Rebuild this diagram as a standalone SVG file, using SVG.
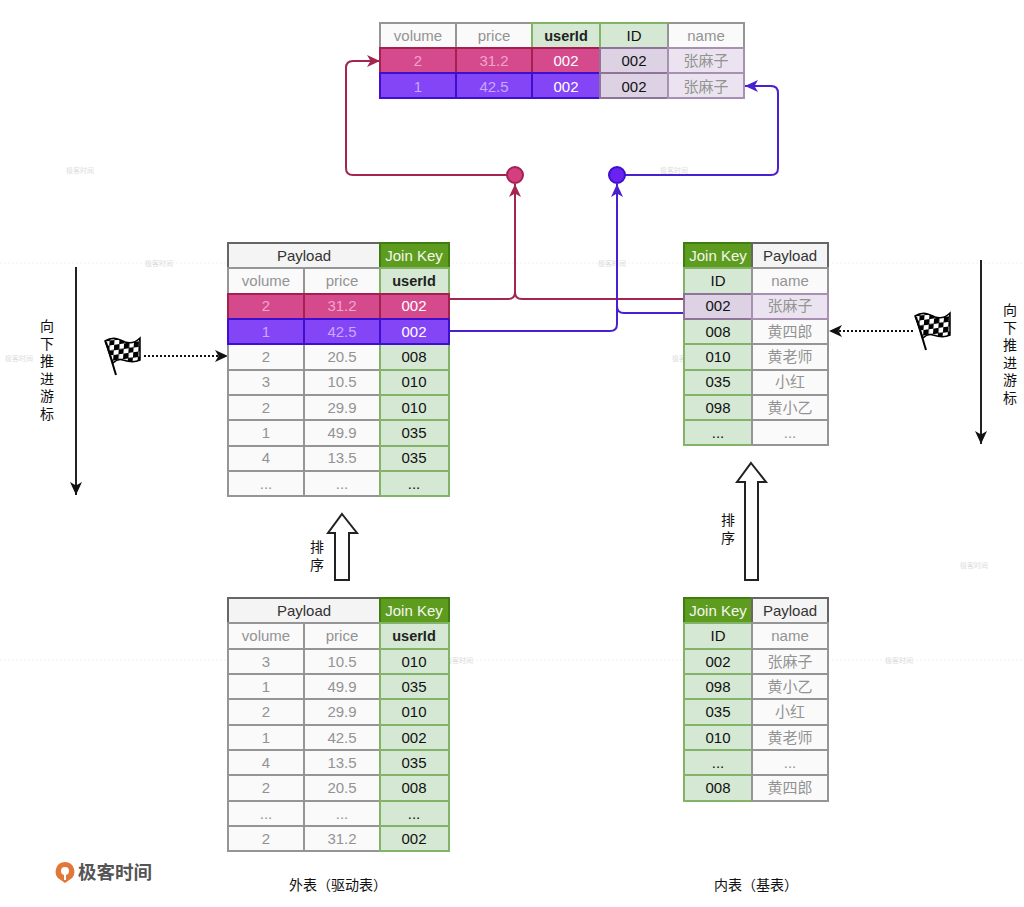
<svg xmlns="http://www.w3.org/2000/svg" width="1024" height="907" viewBox="0 0 1024 907">
<style>
text{font-family:"Liberation Sans","Noto Sans CJK SC",sans-serif;font-size:15px;text-anchor:middle}
rect{stroke-width:2}
.g{fill:#fafafa;stroke:#959595}.gd{fill:#f4f4f4;stroke:#666}
.k{fill:#d5e8d4;stroke:#82b366}.h{fill:#5d9c1f;stroke:#3f7d10}
.p{fill:#d54a8d;stroke:#a3214f}.u{fill:#8445f7;stroke:#3d10cf}
.l{fill:#dcd2e4;stroke:#8f7399}.m{fill:#ebe4f0;stroke:#a890b3}
.tg{fill:#939393}.tk{fill:#111}.td{fill:#333}.tw{fill:#f4f7ee}.tb{font-weight:bold;font-size:14.5px;fill:#222}
.tp{fill:#f0a5cb}.tu{fill:#c9a8ff}.w{fill:#fff}
.wm{font-size:7px;fill:#dcdcdc;text-anchor:start}
.c{fill:none;stroke-width:2}.r{stroke:#a3264f}.b{stroke:#4a1fd0}
.s{font-size:14px;fill:#111}
.wl{stroke:#f1f1f1;stroke-width:1;fill:none;stroke-dasharray:2 2}
</style>
<defs>
<marker id="ar" markerUnits="userSpaceOnUse" markerWidth="14" markerHeight="12" refX="13" refY="6" orient="auto"><path d="M0 0L13 6L0 12L3.500 6Z" fill="#a3264f"/></marker>
<marker id="ab" markerUnits="userSpaceOnUse" markerWidth="14" markerHeight="12" refX="13" refY="6" orient="auto"><path d="M0 0L13 6L0 12L3.500 6Z" fill="#4a1fd0"/></marker>
<marker id="ak" markerUnits="userSpaceOnUse" markerWidth="14" markerHeight="12" refX="13" refY="6" orient="auto"><path d="M0 0L13 6L0 12L3.500 6Z" fill="#111"/></marker>
<pattern id="chk" width="10" height="10" patternUnits="userSpaceOnUse" patternTransform="rotate(-8) skewX(-12)"><rect width="10" height="10" fill="#fff" style="stroke:none"/><rect width="5.500" height="5.500" fill="#000" style="stroke:none"/><rect x="5" y="5" width="5.500" height="5.500" fill="#000" style="stroke:none"/></pattern>
<g id="flagShape"><path d="M0 5C8 0 14 3 20 6C26 8 31 6 35 2L35 24C29 27 24 26 18 24C13 22 10 25 8 27Z" fill="url(#chk)" stroke="#000" stroke-width="1.500"/><path d="M1 6L11 39" stroke="#000" stroke-width="2" fill="none"/></g>
</defs>

<g id="watermarks">
<path class="wl" d="M0 263H1024M0 660H1024"/>
<text class="wm" x="66" y="173">极客时间</text><text class="wm" x="145" y="266">极客时间</text>
<text class="wm" x="598" y="266">极客时间</text><text class="wm" x="672" y="361">极客时间</text>
<text class="wm" x="660" y="173">极客时间</text><text class="wm" x="960" y="568">极客时间</text>
<text class="wm" x="885" y="663">极客时间</text><text class="wm" x="283" y="663">极客时间</text>
<text class="wm" x="445" y="663">极客时间</text><text class="wm" x="5" y="361">极客时间</text>
</g>

<g id="connectors">
<path class="c r" d="M449 299H508Q515 299 515 292V184" marker-end="url(#ar)"/>
<path class="c r" d="M684 299H522Q515 299 515 292"/>
<path class="c b" d="M449 331H610Q617 331 617 324V184" marker-end="url(#ab)"/>
<path class="c b" d="M684 313H624Q617 313 617 306"/>
<path class="c r" d="M507 175H353Q346 175 346 168V68Q346 61 353 61H380" marker-end="url(#ar)"/>
<path class="c b" d="M625 175H771Q778 175 778 168V93Q778 86 771 86H745" marker-end="url(#ab)"/>
<path class="c" stroke="#111" stroke-dasharray="2 2" d="M144 356H228" marker-end="url(#ak)"/>
<path class="c" stroke="#111" stroke-dasharray="2 2" d="M913 331H829" marker-end="url(#ak)"/>
<path class="c" stroke="#222" d="M76 267V495" marker-end="url(#ak)"/>
<path class="c" stroke="#222" d="M981 260V444" marker-end="url(#ak)"/>
<path d="M342 514L357 533H349V580H335V533H328Z" fill="#fff" stroke="#222" stroke-width="2"/>
<path d="M751 463L766 482H758V580H745V482H737Z" fill="#fff" stroke="#222" stroke-width="2"/>
</g>

<g id="dot-pink"><circle cx="515" cy="175" r="8" fill="#d43f80" stroke="#a3214f" stroke-width="2"/></g>
<g id="dot-purple"><circle cx="617" cy="175" r="8" fill="#6a22f0" stroke="#3d10cf" stroke-width="2"/></g>

<g id="result-table">
<rect class="g" x="380" y="23" width="76" height="25"/><rect class="g" x="456" y="23" width="76" height="25"/>
<rect class="k" x="532" y="23" width="68" height="25"/><rect class="k" x="600" y="23" width="68" height="25"/>
<rect class="g" x="668" y="23" width="76" height="25"/>
<rect class="p" x="380" y="48" width="76" height="25"/><rect class="p" x="456" y="48" width="76" height="25"/><rect class="p" x="532" y="48" width="68" height="25"/>
<rect class="l" x="600" y="48" width="68" height="25"/><rect class="m" x="668" y="48" width="76" height="25"/>
<rect class="u" x="380" y="73" width="76" height="25"/><rect class="u" x="456" y="73" width="76" height="25"/><rect class="u" x="532" y="73" width="68" height="25"/>
<rect class="l" x="600" y="73" width="68" height="25"/><rect class="m" x="668" y="73" width="76" height="25"/>
<text class="tg" x="418" y="41">volume</text><text class="tg" x="494" y="41">price</text><text class="tb" x="566" y="41">userId</text><text class="tk" x="634" y="41">ID</text><text class="tg" x="706" y="41">name</text>
<text class="tp" x="418" y="66">2</text><text class="tp" x="494" y="66">31.2</text><text class="w" x="566" y="66">002</text><text class="tk" x="634" y="66">002</text><text class="tg" x="706" y="66">张麻子</text>
<text class="tu" x="418" y="92">1</text><text class="tu" x="494" y="92">42.5</text><text class="w" x="566" y="92">002</text><text class="tk" x="634" y="92">002</text><text class="tg" x="706" y="92">张麻子</text>
</g>

<g id="outer-sorted">
<rect class="gd" x="228" y="243" width="152" height="25"/><rect class="h" x="380" y="243" width="69" height="25"/>
<rect class="g" x="228" y="268" width="76" height="26"/><rect class="g" x="304" y="268" width="76" height="26"/><rect class="k" x="380" y="268" width="69" height="26"/>
<rect class="g" x="228" y="344" width="76" height="26"/><rect class="g" x="304" y="344" width="76" height="26"/><rect class="k" x="380" y="344" width="69" height="26"/>
<rect class="g" x="228" y="370" width="76" height="25"/><rect class="g" x="304" y="370" width="76" height="25"/><rect class="k" x="380" y="370" width="69" height="25"/>
<rect class="g" x="228" y="395" width="76" height="25"/><rect class="g" x="304" y="395" width="76" height="25"/><rect class="k" x="380" y="395" width="69" height="25"/>
<rect class="g" x="228" y="420" width="76" height="26"/><rect class="g" x="304" y="420" width="76" height="26"/><rect class="k" x="380" y="420" width="69" height="26"/>
<rect class="g" x="228" y="446" width="76" height="25"/><rect class="g" x="304" y="446" width="76" height="25"/><rect class="k" x="380" y="446" width="69" height="25"/>
<rect class="g" x="228" y="471" width="76" height="25"/><rect class="g" x="304" y="471" width="76" height="25"/><rect class="k" x="380" y="471" width="69" height="25"/>
<rect class="p" x="228" y="294" width="76" height="25"/><rect class="p" x="304" y="294" width="76" height="25"/><rect class="p" x="380" y="294" width="69" height="25"/>
<rect class="u" x="228" y="319" width="76" height="25"/><rect class="u" x="304" y="319" width="76" height="25"/><rect class="u" x="380" y="319" width="69" height="25"/>
<text class="td" x="304" y="261">Payload</text><text class="tw" x="414" y="261">Join Key</text>
<text class="tg" x="266" y="286">volume</text><text class="tg" x="342" y="286">price</text><text class="tb" x="414" y="286">userId</text>
<text class="tp" x="266" y="311">2</text><text class="tp" x="342" y="311">31.2</text><text class="w" x="414" y="311">002</text>
<text class="tu" x="266" y="337">1</text><text class="tu" x="342" y="337">42.5</text><text class="w" x="414" y="337">002</text>
<text class="tg" x="266" y="362">2</text><text class="tg" x="342" y="362">20.5</text><text class="tk" x="414" y="362">008</text>
<text class="tg" x="266" y="387">3</text><text class="tg" x="342" y="387">10.5</text><text class="tk" x="414" y="387">010</text>
<text class="tg" x="266" y="413">2</text><text class="tg" x="342" y="413">29.9</text><text class="tk" x="414" y="413">010</text>
<text class="tg" x="266" y="438">1</text><text class="tg" x="342" y="438">49.9</text><text class="tk" x="414" y="438">035</text>
<text class="tg" x="266" y="463">4</text><text class="tg" x="342" y="463">13.5</text><text class="tk" x="414" y="463">035</text>
<text class="tg" x="266" y="489">...</text><text class="tg" x="342" y="489">...</text><text class="tk" x="414" y="489">...</text>
</g>

<g id="inner-sorted">
<rect class="h" x="684" y="243" width="68" height="25"/><rect class="gd" x="752" y="243" width="76" height="25"/>
<rect class="k" x="684" y="268" width="68" height="26"/><rect class="g" x="752" y="268" width="76" height="26"/>
<rect class="k" x="684" y="319" width="68" height="25"/><rect class="g" x="752" y="319" width="76" height="25"/>
<rect class="k" x="684" y="344" width="68" height="26"/><rect class="g" x="752" y="344" width="76" height="26"/>
<rect class="k" x="684" y="370" width="68" height="25"/><rect class="g" x="752" y="370" width="76" height="25"/>
<rect class="k" x="684" y="395" width="68" height="25"/><rect class="g" x="752" y="395" width="76" height="25"/>
<rect class="k" x="684" y="420" width="68" height="25"/><rect class="g" x="752" y="420" width="76" height="25"/>
<rect class="l" x="684" y="294" width="68" height="25"/><rect class="m" x="752" y="294" width="76" height="25"/>
<text class="tw" x="718" y="261">Join Key</text><text class="td" x="790" y="261">Payload</text>
<text class="tk" x="718" y="286">ID</text><text class="tg" x="790" y="286">name</text>
<text class="tk" x="718" y="311">002</text><text class="tg" x="790" y="311">张麻子</text>
<text class="tk" x="718" y="337">008</text><text class="tg" x="790" y="337">黄四郎</text>
<text class="tk" x="718" y="362">010</text><text class="tg" x="790" y="362">黄老师</text>
<text class="tk" x="718" y="387">035</text><text class="tg" x="790" y="387">小红</text>
<text class="tk" x="718" y="413">098</text><text class="tg" x="790" y="413">黄小乙</text>
<text class="tk" x="718" y="438">...</text><text class="tg" x="790" y="438">...</text>
</g>

<g id="outer-table">
<rect class="gd" x="228" y="598" width="152" height="25"/><rect class="h" x="380" y="598" width="69" height="25"/>
<rect class="g" x="228" y="623" width="76" height="26"/><rect class="g" x="304" y="623" width="76" height="26"/><rect class="k" x="380" y="623" width="69" height="26"/>
<rect class="g" x="228" y="649" width="76" height="25"/><rect class="g" x="304" y="649" width="76" height="25"/><rect class="k" x="380" y="649" width="69" height="25"/>
<rect class="g" x="228" y="674" width="76" height="25"/><rect class="g" x="304" y="674" width="76" height="25"/><rect class="k" x="380" y="674" width="69" height="25"/>
<rect class="g" x="228" y="699" width="76" height="26"/><rect class="g" x="304" y="699" width="76" height="26"/><rect class="k" x="380" y="699" width="69" height="26"/>
<rect class="g" x="228" y="725" width="76" height="25"/><rect class="g" x="304" y="725" width="76" height="25"/><rect class="k" x="380" y="725" width="69" height="25"/>
<rect class="g" x="228" y="750" width="76" height="25"/><rect class="g" x="304" y="750" width="76" height="25"/><rect class="k" x="380" y="750" width="69" height="25"/>
<rect class="g" x="228" y="775" width="76" height="26"/><rect class="g" x="304" y="775" width="76" height="26"/><rect class="k" x="380" y="775" width="69" height="26"/>
<rect class="g" x="228" y="801" width="76" height="25"/><rect class="g" x="304" y="801" width="76" height="25"/><rect class="k" x="380" y="801" width="69" height="25"/>
<rect class="g" x="228" y="826" width="76" height="25"/><rect class="g" x="304" y="826" width="76" height="25"/><rect class="k" x="380" y="826" width="69" height="25"/>
<text class="td" x="304" y="616">Payload</text><text class="tw" x="414" y="616">Join Key</text>
<text class="tg" x="266" y="641">volume</text><text class="tg" x="342" y="641">price</text><text class="tb" x="414" y="641">userId</text>
<text class="tg" x="266" y="667">3</text><text class="tg" x="342" y="667">10.5</text><text class="tk" x="414" y="667">010</text>
<text class="tg" x="266" y="692">1</text><text class="tg" x="342" y="692">49.9</text><text class="tk" x="414" y="692">035</text>
<text class="tg" x="266" y="717">2</text><text class="tg" x="342" y="717">29.9</text><text class="tk" x="414" y="717">010</text>
<text class="tg" x="266" y="743">1</text><text class="tg" x="342" y="743">42.5</text><text class="tk" x="414" y="743">002</text>
<text class="tg" x="266" y="768">4</text><text class="tg" x="342" y="768">13.5</text><text class="tk" x="414" y="768">035</text>
<text class="tg" x="266" y="793">2</text><text class="tg" x="342" y="793">20.5</text><text class="tk" x="414" y="793">008</text>
<text class="tg" x="266" y="819">...</text><text class="tg" x="342" y="819">...</text><text class="tk" x="414" y="819">...</text>
<text class="tg" x="266" y="844">2</text><text class="tg" x="342" y="844">31.2</text><text class="tk" x="414" y="844">002</text>
</g>

<g id="inner-table">
<rect class="h" x="684" y="598" width="68" height="25"/><rect class="gd" x="752" y="598" width="76" height="25"/>
<rect class="k" x="684" y="623" width="68" height="26"/><rect class="g" x="752" y="623" width="76" height="26"/>
<rect class="k" x="684" y="649" width="68" height="25"/><rect class="g" x="752" y="649" width="76" height="25"/>
<rect class="k" x="684" y="674" width="68" height="25"/><rect class="g" x="752" y="674" width="76" height="25"/>
<rect class="k" x="684" y="699" width="68" height="26"/><rect class="g" x="752" y="699" width="76" height="26"/>
<rect class="k" x="684" y="725" width="68" height="25"/><rect class="g" x="752" y="725" width="76" height="25"/>
<rect class="k" x="684" y="750" width="68" height="25"/><rect class="g" x="752" y="750" width="76" height="25"/>
<rect class="k" x="684" y="775" width="68" height="26"/><rect class="g" x="752" y="775" width="76" height="26"/>
<text class="tw" x="718" y="616">Join Key</text><text class="td" x="790" y="616">Payload</text>
<text class="tk" x="718" y="641">ID</text><text class="tg" x="790" y="641">name</text>
<text class="tk" x="718" y="667">002</text><text class="tg" x="790" y="667">张麻子</text>
<text class="tk" x="718" y="692">098</text><text class="tg" x="790" y="692">黄小乙</text>
<text class="tk" x="718" y="717">035</text><text class="tg" x="790" y="717">小红</text>
<text class="tk" x="718" y="743">010</text><text class="tg" x="790" y="743">黄老师</text>
<text class="tk" x="718" y="768">...</text><text class="tg" x="790" y="768">...</text>
<text class="tk" x="718" y="793">008</text><text class="tg" x="790" y="793">黄四郎</text>
</g>

<g id="flag-left"><use href="#flagShape" x="105" y="336"/></g>
<g id="flag-right"><use href="#flagShape" x="915" y="311"/></g>

<g id="labels">
<text class="s"><tspan x="47" y="331">向</tspan><tspan x="47" dy="17.600">下</tspan><tspan x="47" dy="17.600">推</tspan><tspan x="47" dy="17.600">进</tspan><tspan x="47" dy="17.600">游</tspan><tspan x="47" dy="17.600">标</tspan></text>
<text class="s"><tspan x="1010" y="315">向</tspan><tspan x="1010" dy="17.600">下</tspan><tspan x="1010" dy="17.600">推</tspan><tspan x="1010" dy="17.600">进</tspan><tspan x="1010" dy="17.600">游</tspan><tspan x="1010" dy="17.600">标</tspan></text>
<text class="s"><tspan x="317" y="552">排</tspan><tspan x="317" dy="18">序</tspan></text>
<text class="s"><tspan x="728" y="525">排</tspan><tspan x="728" dy="18">序</tspan></text>
<text class="s" x="338" y="890">外表（驱动表）</text>
<text class="s" x="756" y="890">内表（基表）</text>
</g>

<g id="logo">
<path d="M65 862a9.500 9.500 0 0 1 5 17.500L65 883L60 879.500A9.500 9.500 0 0 1 65 862Z" fill="#e2773a"/>
<circle cx="65" cy="871" r="4" fill="#fff"/><path d="M65 871V880" stroke="#fff" stroke-width="2"/>
<text x="115" y="879" style="font-size:18.500px;fill:#555;font-weight:bold">极客时间</text>
</g>
</svg>
